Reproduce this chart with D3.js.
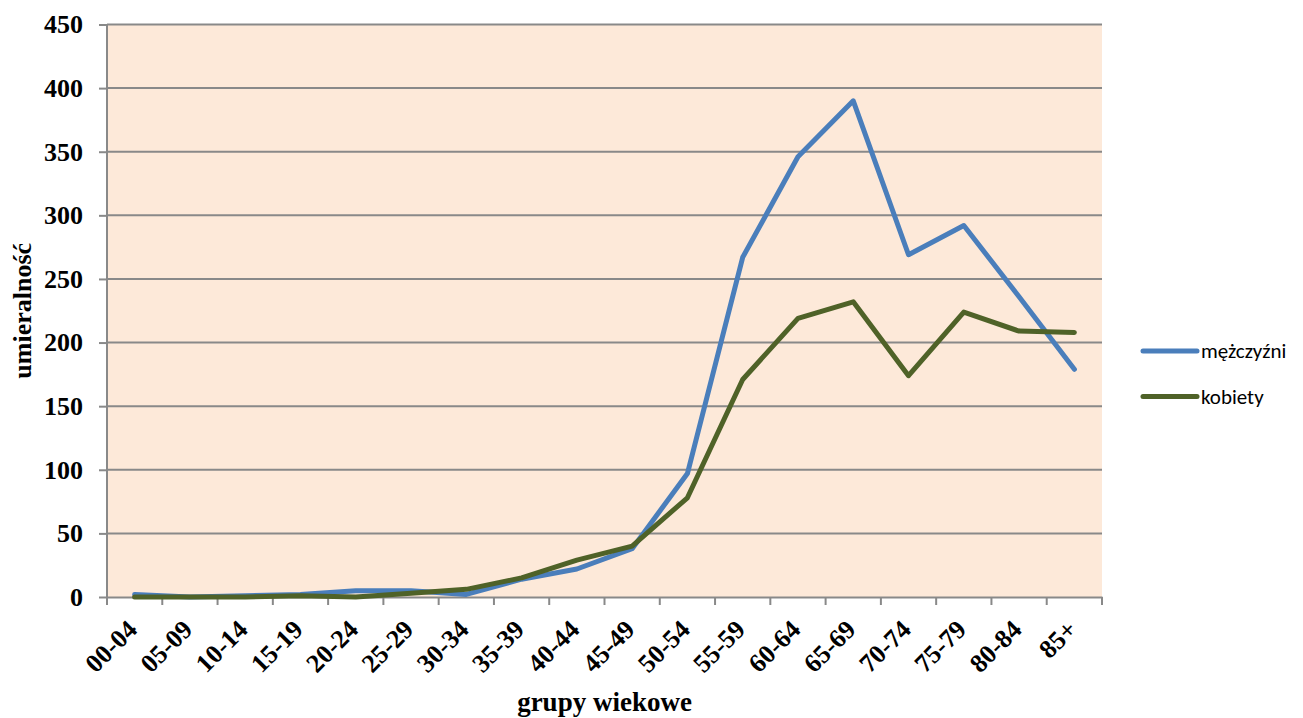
<!DOCTYPE html>
<html>
<head>
<meta charset="utf-8">
<script src="https://cdn.jsdelivr.net/npm/d3@7"></script>
<style>
  body { margin: 0; background: #fff; }
  svg text { font-family: "Liberation Serif", "Times New Roman", serif; }
</style>
</head>
<body>
<svg id="chart" width="1303" height="718"></svg>
<script>
const categories = ["00-04", "05-09", "10-14", "15-19", "20-24", "25-29", "30-34", "35-39", "40-44",
  "45-49", "50-54", "55-59", "60-64", "65-69", "70-74", "75-79", "80-84", "85+"];
const men = [2, 0, 1, 2, 5, 5, 2, 14, 22, 38, 97, 267, 346, 390, 269, 292, 236, 179];
const women = [0, 0, 0, 1, 0, 3, 6, 15, 29, 40, 78, 171, 219, 232, 174, 224, 209, 208];
const yTicks = [0, 50, 100, 150, 200, 250, 300, 350, 400, 450];

const series = [
  { name: "mężczyźni", values: men, color: "#4A7EBB" },
  { name: "kobiety", values: women, color: "#4F6228" }
];

const margin = { top: 24.5, right: 201, bottom: 121, left: 107 };
const width = 1303, height = 718;

const svg = d3.select("#chart");

const x = d3.scaleBand()
  .domain(categories)
  .range([margin.left, width - margin.right]);

const y = d3.scaleLinear()
  .domain([0, 450])
  .range([height - margin.bottom, margin.top]);

// plot background
svg.append("rect")
  .attr("x", margin.left)
  .attr("y", margin.top)
  .attr("width", x.range()[1] - margin.left)
  .attr("height", y(0) - margin.top)
  .attr("fill", "#FDE9D9");

// gridlines
svg.append("g")
  .selectAll("line")
  .data(yTicks.filter(d => d > 0))
  .join("line")
  .attr("x1", margin.left)
  .attr("x2", x.range()[1])
  .attr("y1", d => y(d))
  .attr("y2", d => y(d))
  .attr("stroke", "#898989")
  .attr("stroke-width", 2);

// y axis
const yAxis = d3.axisLeft(y)
  .tickValues(yTicks)
  .tickSize(8)
  .tickPadding(16);

svg.append("g")
  .attr("transform", "translate(" + margin.left + ",0)")
  .call(yAxis)
  .call(g => g.select(".domain").attr("stroke", "#898989").attr("stroke-width", 2).attr("d", "M0," + y(0) + "V" + y(450)))
  .call(g => g.selectAll(".tick line").attr("stroke", "#898989").attr("stroke-width", 2))
  .call(g => g.selectAll(".tick text")
    .attr("fill", "#000")
    .style("font-size", "26px")
    .style("font-weight", "bold"));

// x axis
const xAxis = d3.axisBottom(x)
  .tickSize(0)
  .tickPadding(0);

const xg = svg.append("g")
  .attr("transform", "translate(0," + y(0) + ")")
  .call(xAxis);
xg.select(".domain").attr("stroke", "#898989").attr("stroke-width", 2);

// category boundary ticks
xg.append("g")
  .selectAll("line")
  .data(categories.concat(["end"]))
  .join("line")
  .attr("x1", (d, i) => margin.left + i * x.bandwidth())
  .attr("x2", (d, i) => margin.left + i * x.bandwidth())
  .attr("y1", 0)
  .attr("y2", 8)
  .attr("stroke", "#898989")
  .attr("stroke-width", 2);

xg.selectAll(".tick text")
  .attr("fill", "#000")
  .style("font-size", "26px")
  .style("font-weight", "bold")
  .attr("text-anchor", "end")
  .attr("y", 0)
  .attr("dy", "0")
  .attr("transform", "translate(4,34) rotate(-45)");

// lines
const line = d3.line()
  .x((d, i) => x(categories[i]) + x.bandwidth() / 2)
  .y(d => y(d));

svg.append("g")
  .selectAll("path")
  .data(series)
  .join("path")
  .attr("d", d => line(d.values))
  .attr("fill", "none")
  .attr("stroke", d => d.color)
  .attr("stroke-width", 5)
  .attr("stroke-linejoin", "round")
  .attr("stroke-linecap", "round");

// axis titles
svg.append("text")
  .attr("x", (margin.left + x.range()[1]) / 2)
  .attr("y", 711)
  .attr("text-anchor", "middle")
  .style("font-size", "27px")
  .style("font-weight", "bold")
  .text("grupy wiekowe");

svg.append("text")
  .attr("transform", "translate(31," + ((margin.top + y(0)) / 2) + ") rotate(-90)")
  .attr("text-anchor", "middle")
  .style("font-size", "26px")
  .style("font-weight", "bold")
  .text("umieralność");

// legend
const legend = svg.append("g")
  .selectAll("g")
  .data(series)
  .join("g")
  .attr("transform", (d, i) => "translate(1143," + (351 + i * 45.5) + ")");

legend.append("line")
  .attr("x1", 0)
  .attr("x2", 54)
  .attr("stroke", d => d.color)
  .attr("stroke-width", 5)
  .attr("stroke-linecap", "round");

legend.append("text")
  .attr("x", 58)
  .attr("dy", "0.35em")
  .style("font-family", "Carlito, Lato, 'Open Sans', sans-serif")
  .style("font-size", "21px")
  .text(d => d.name);
</script>
</body>
</html>
